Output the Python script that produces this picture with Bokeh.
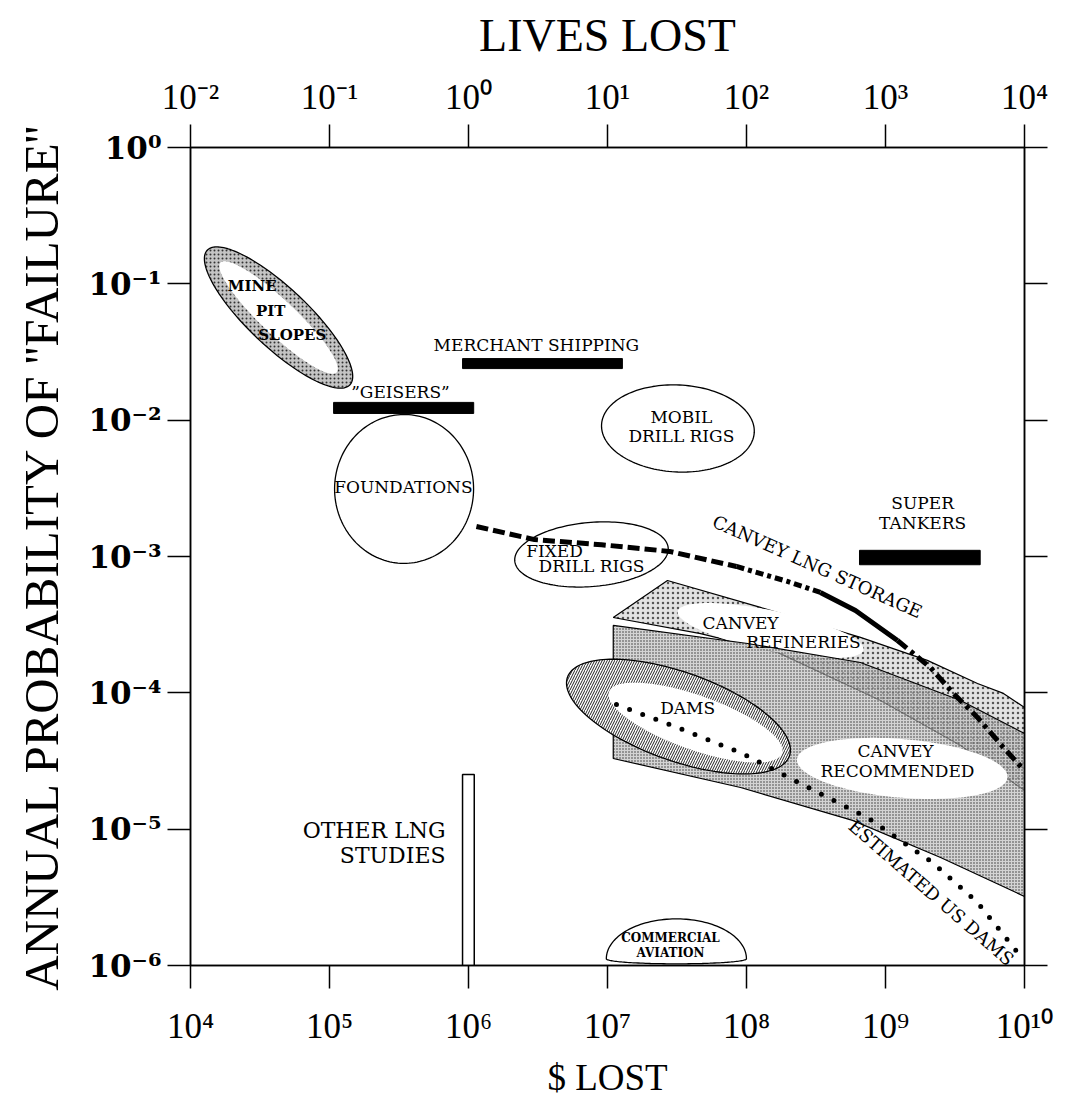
import numpy as np
from bokeh.plotting import figure
from bokeh.models import Range1d, LinearAxis, FixedTicker, ColumnDataSource
from bokeh.core.properties import value
from bokeh.embed import file_html
from bokeh.resources import INLINE

SUP = str.maketrans("0123456789-", "⁰¹²³⁴⁵⁶⁷⁸⁹⁻")

# ---------------- axis decades ----------------
dollar_decades = [4, 5, 6, 7, 8, 9, 10]
lives_decades = [-2, -1, 0, 1, 2, 3, 4]
prob_decades = [-6, -5, -4, -3, -2, -1, 0]

# ---------------- black bars ($ range, probability band) ----------------
bar_x_lo = [1.07e5, 9.06e5, 6.5e8]
bar_x_hi = [1.09e6, 1.28e7, 4.8e9]
bar_p_hi = [1.35e-2, 2.83e-2, 1.11e-3]
bar_p_lo = [1.12e-2, 2.39e-2, 8.7e-4]

# other LNG studies (open bar from the bottom)
other_lng_x = [9.06e5, 1.10e6]
other_lng_p_top = 2.52e-5

# ---------------- ellipse-like regions: centre ($, p), semi-axes (decades), tilt ----------------
mine = dict(c=(4.30e4, 5.66e-2), a=0.712, b=0.215, ang=-44)
mine_core = dict(c=(4.30e4, 5.66e-2), a=0.58, b=0.125, ang=-44)
foundations = dict(c=(3.44e5, 3.13e-3), a=0.50, b=0.546, ang=0)
mobil = dict(c=(3.21e7, 8.69e-3), a=0.55, b=0.319, ang=-3)
fixed = dict(c=(7.67e6, 1.035e-3), a=0.554, b=0.235, ang=5)
dams = dict(c=(3.24e7, 6.7e-5), a=0.849, b=0.324, ang=-20)
dams_core = dict(c=(4.30e7, 6.05e-5), a=0.662, b=0.198, ang=-20)
recommended_core = dict(c=(1.32e9, 2.79e-5), a=0.76, b=0.215, ang=-5)
refineries_core = dict(c=(1.49e8, 2.86e-4), a=0.683, b=0.147, ang=-12)
aviation = dict(c=(3.13e7, 1.12e-6), a=0.504, b_top=0.293, b_bot=0.037)

# ---------------- banded regions ----------------
recommended_x = [1.10e7, 1.02e8, 6.61e8, 3.47e9, 1e10, 1e10, 2.49e9, 5.79e8, 9.06e7, 1.10e7]
recommended_p = [3.12e-4, 2.30e-4, 1.67e-4, 8.79e-5, 5.03e-5, 3.21e-6, 6.19e-6, 1.16e-5, 2.02e-5, 3.30e-5]
refineries_x = [1.10e7, 2.70e7, 1.26e8, 6.61e8, 2.0e9, 4.59e9, 7.06e9, 1e10, 1e10, 3.47e9, 9.2e8, 1.67e8, 4.67e7]
refineries_p = [3.57e-4, 6.67e-4, 4.23e-4, 2.55e-4, 1.73e-4, 1.17e-4, 9.9e-5, 7.8e-5, 1.92e-5, 4.11e-5, 8.79e-5, 1.98e-4, 2.72e-4]

# ---------------- curves ----------------
lng_x = [1.14e6, 2.99e6, 9.06e6, 2.79e7, 8.47e7, 1.97e8, 3.40e8, 6.08e8, 1.22e9, 2.11e9, 3.08e9, 4.59e9, 7.06e9, 1.0e10]
lng_p = [1.66e-3, 1.33e-3, 1.22e-3, 1.09e-3, 8.45e-4, 6.56e-4, 5.45e-4, 4.02e-4, 2.42e-4, 1.53e-4, 9.9e-5, 6.6e-5, 3.97e-5, 2.69e-5]
us_dams_x = [1.16e7, 2.94e7, 9.36e7, 2.79e8, 7.55e8, 2.18e9, 4.59e9, 9.2e9]
us_dams_p = [8.2e-5, 5.75e-5, 3.59e-5, 2.02e-5, 1.20e-5, 5.69e-6, 2.90e-6, 1.20e-6]

# ---------------- labels ----------------
plain_text = ["MERCHANT SHIPPING", "\u201dGEISERS\u201d", "FOUNDATIONS", "MOBIL", "DRILL RIGS", "FIXED",
              "DRILL RIGS", "SUPER", "TANKERS", "CANVEY", "REFINERIES", "DAMS", "CANVEY", "RECOMMENDED"]
plain_x = [3.08e6, 3.24e5, 3.40e5, 3.40e7, 3.40e7, 4.16e6, 7.67e6, 1.85e9, 1.85e9, 9.06e7, 2.57e8, 3.77e7, 1.18e9, 1.22e9]
plain_p = [3.53e-2, 1.62e-2, 3.21e-3, 1.05e-2, 7.59e-3, 1.09e-3, 8.45e-4, 2.45e-3, 1.77e-3, 3.28e-4, 2.34e-4, 7.80e-5, 3.72e-5, 2.69e-5]
mine_text = ["MINE", "PIT", "SLOPES"]
mine_x = [2.78e4, 3.77e4, 5.40e4]
mine_p = [9.7e-2, 6.37e-2, 4.18e-2]
aviation_text = ["COMMERCIAL", "AVIATION"]
aviation_x = [2.84e7, 2.84e7]
aviation_p = [1.60e-6, 1.24e-6]
other_text = ["OTHER LNG", "STUDIES"]
other_x = [6.84e5, 6.84e5]
other_p = [9.8e-6, 6.41e-6]
curve_text = ["CANVEY LNG STORAGE", "ESTIMATED US DAMS"]
curve_x = [3.24e8, 2.14e9]
curve_p = [8.45e-4, 3.43e-6]
curve_angle = [-24, -41]

L = np.log10
SERIF = "DejaVu Serif"


def ellipse(e, n=160):
    t = np.linspace(0, 2 * np.pi, n)
    lx, ly = L(e["c"][0]), L(e["c"][1])
    th = np.radians(e["ang"])
    x = lx + e["a"] * np.cos(t) * np.cos(th) - e["b"] * np.sin(t) * np.sin(th)
    y = ly + e["a"] * np.cos(t) * np.sin(th) + e["b"] * np.sin(t) * np.cos(th)
    return x, y


p = figure(frame_width=834, frame_height=818,
           x_range=Range1d(4, 10), y_range=Range1d(-6, 0),
           output_backend="svg", toolbar_location=None,
           min_border_left=190, min_border_right=42, min_border_top=147, min_border_bottom=136)
p.extra_x_ranges = {"lives": Range1d(-2, 4)}
p.grid.visible = False
p.outline_line_color = "black"
p.outline_line_width = 1.5
p.background_fill_color = "white"
p.border_fill_color = "white"


def style_axis(ax, ticks, labels, font, size, weight="normal"):
    ax.ticker = FixedTicker(ticks=ticks)
    ax.major_label_overrides = {t: lab for t, lab in zip(ticks, labels)}
    ax.major_tick_out = 23
    ax.major_tick_in = 0
    ax.minor_tick_line_color = None
    ax.axis_line_width = 1.5
    ax.major_tick_line_width = 1.5
    ax.axis_line_color = "black"
    ax.major_tick_line_color = "black"
    ax.major_label_text_font = font
    ax.major_label_text_font_size = size
    ax.major_label_text_font_style = weight
    ax.major_label_text_color = "black"
    ax.axis_label_text_font = "Liberation Serif"
    ax.axis_label_text_font_style = "normal"
    ax.axis_label_text_color = "black"


bx = p.xaxis[0]
style_axis(bx, dollar_decades, ["10" + str(d).translate(SUP) for d in dollar_decades],
           "Liberation Serif", "35px")
bx.axis_label = "$ LOST"
bx.axis_label_text_font_size = "37px"
bx.major_label_standoff = 18
bx.axis_label_standoff = 8

ly = p.yaxis[0]
style_axis(ly, prob_decades, ["10" + str(d).translate(SUP) for d in prob_decades], SERIF, "31px", "bold")
ly.axis_label = "ANNUAL PROBABILITY OF ''FAILURE''"
ly.axis_label_text_font_size = "49px"
ly.major_label_standoff = 6
ly.axis_label_standoff = 16

top = LinearAxis(x_range_name="lives")
style_axis(top, lives_decades, ["10" + str(d).translate(SUP) for d in lives_decades], "Liberation Serif", "35px")
top.axis_label = "LIVES LOST"
top.axis_label_text_font_size = "46px"
top.major_label_standoff = 8
top.axis_label_standoff = 14
p.add_layout(top, "above")

right = LinearAxis()
style_axis(right, prob_decades, ["" for d in prob_decades], SERIF, "10px")
p.add_layout(right, "right")

# ---------------- regions ----------------
# Canvey refineries (light stipple)
p.patch(L(refineries_x), L(refineries_p), fill_color="#e2e2e2", line_color="black", line_width=1.2,
        hatch_pattern="dot", hatch_scale=5, hatch_color="#555555", hatch_weight=1)
rx, ry = ellipse(refineries_core)
p.patch(rx, ry, fill_color="white", line_color=None)
# Canvey recommended (dense stipple)
p.patch(L(recommended_x), L(recommended_p), fill_color="#bdbdbd", fill_alpha=0.65, line_color="black",
        line_width=1.2, hatch_pattern="dot", hatch_scale=3, hatch_color="#333333", hatch_weight=1)
cx, cy = ellipse(recommended_core)
p.patch(cx, cy, fill_color="white", line_color=None)

# dams
dx, dy = ellipse(dams)
p.patch(dx, dy, fill_color="white", line_color="black", line_width=1.3,
        hatch_pattern="/", hatch_scale=5, hatch_color="#222222", hatch_weight=1)
dx, dy = ellipse(dams_core)
p.patch(dx, dy, fill_color="white", line_color=None)

# mine pit slopes
mx, my = ellipse(mine)
p.patch(mx, my, fill_color="#c4c4c4", line_color="black", line_width=1.3,
        hatch_pattern="dot", hatch_scale=4, hatch_color="#333333", hatch_weight=1)
mx, my = ellipse(mine_core)
p.patch(mx, my, fill_color="white", line_color=None)

# open outlines
for e in (foundations, mobil, fixed):
    ex, ey = ellipse(e)
    p.line(ex, ey, line_color="black", line_width=1.3)

# commercial aviation dome
t = np.linspace(0, np.pi, 80)
ax_ = L(aviation["c"][0]) + aviation["a"] * np.cos(t)
ay_ = L(aviation["c"][1]) + aviation["b_top"] * np.sin(t)
bx_ = L(aviation["c"][0]) + aviation["a"] * np.cos(t + np.pi)
by_ = L(aviation["c"][1]) - aviation["b_bot"] * np.sin(t)
p.patch(np.concatenate([ax_, bx_]), np.concatenate([ay_, by_]), fill_color="white",
        line_color="black", line_width=1.3)

# bars
p.quad(left=L(bar_x_lo), right=L(bar_x_hi), bottom=L(bar_p_lo), top=L(bar_p_hi),
       fill_color="black", line_color="black")
p.quad(left=[L(other_lng_x[0])], right=[L(other_lng_x[1])], bottom=[-6], top=[L(other_lng_p_top)],
       fill_color="white", line_color="black", line_width=1.5)

# curves
lx, lp = L(lng_x), L(lng_p)
p.line(lx[0:5], lp[0:5], line_color="black", line_width=5, line_dash="12 5")
p.line(lx[4:7], lp[4:7], line_color="black", line_width=5, line_dash="8 4 4 4")
p.line(lx[6:9], lp[6:9], line_color="black", line_width=5)
p.line(lx[8:], lp[8:], line_color="black", line_width=5, line_dash="12 5 4 5")
p.line(L(us_dams_x), L(us_dams_p), line_color="black", line_width=5, line_dash="0 14", line_cap="round")

# ---------------- texts ----------------
def texts(txt, xs, ps, size, style="normal", align="center", angle=None, font=SERIF):
    src = ColumnDataSource(dict(x=L(xs), y=L(ps), text=txt,
                                angle=np.radians(angle) if angle is not None else np.zeros(len(txt))))
    p.text(x="x", y="y", text="text", angle="angle", source=src, text_font=value(font),
           text_font_size=size, text_font_style=style, text_align=align, text_baseline="middle",
           text_color="black")


texts(plain_text, plain_x, plain_p, "17px")
texts(mine_text, mine_x, mine_p, "15px", "bold")
texts(aviation_text, aviation_x, aviation_p, "12px", "bold")
texts(other_text, other_x, other_p, "22px", align="right")
texts(curve_text, curve_x, curve_p, "18px", angle=curve_angle)

open("out.html", "w").write(file_html(p, INLINE))
